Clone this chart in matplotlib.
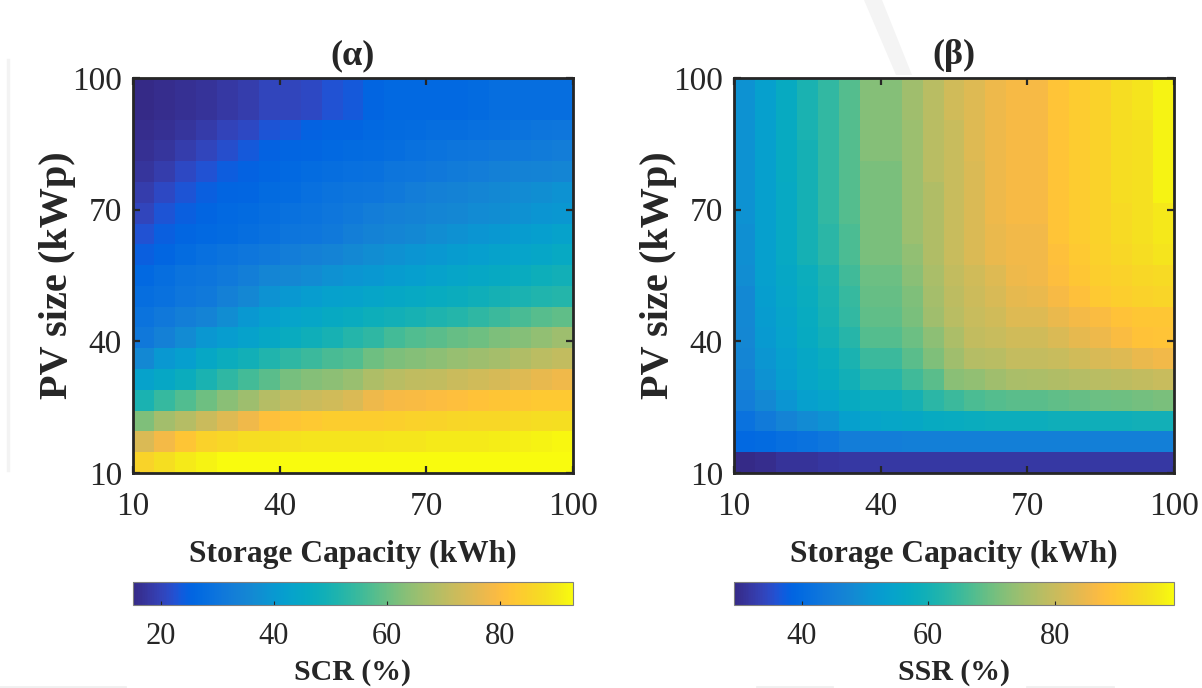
import numpy as np
import matplotlib
matplotlib.use("Agg")
import matplotlib.pyplot as plt
from matplotlib.colors import LinearSegmentedColormap
from matplotlib.patches import Polygon
from matplotlib.lines import Line2D

# ---------------- data ----------------
storage_range = (10, 100)   # kWh
pv_range = (10, 100)        # kWp
x_ticks = [10, 40, 70, 100]
y_ticks = [10, 40, 70, 100]

# SCR (%) rows from PV = 100 kWp (top) down to PV = 10 kWp (bottom),
# columns from storage 10 kWh (left) to 100 kWh (right)
scr = [
    [15, 16, 16.5, 17, 18, 19, 20.5, 20.5, 21, 22.5, 23.5, 25.5, 26.5, 26.5, 26.5, 26.5, 27, 28, 28, 28, 28],
    [15, 16, 16.5, 17, 18, 19, 20.5, 20.5, 21, 22.5, 23.5, 25.5, 26.5, 26.5, 26.5, 26.5, 27, 28, 28, 28, 28],
    [16, 16.5, 17.5, 18.5, 20, 21, 23, 23.5, 25, 25.5, 25.5, 26.5, 27, 27.5, 28, 28, 28.5, 29, 29.5, 30, 30.5],
    [16.5, 17.5, 19, 20.5, 22, 23.5, 25, 25.5, 26, 26.5, 27, 27.5, 28, 29, 29.5, 30, 30.5, 31, 31.5, 32, 32.5],
    [17.5, 19, 21, 22.5, 24, 25, 26, 26.5, 27.5, 28, 28.5, 29, 30, 30.5, 31, 32, 32.5, 33.5, 34, 34.5, 35],
    [19, 21, 23, 24.5, 25.5, 26, 27, 27.5, 28.5, 29.5, 30, 30.5, 31.5, 32.5, 33.5, 34, 35, 36, 36.5, 37.5, 38.5],
    [20.5, 23, 24.5, 25.5, 26.5, 27, 28, 29, 29.5, 30.5, 31.5, 32.5, 33.5, 34, 35, 35.5, 36.5, 37, 38, 39, 39.5],
    [22.5, 24.5, 26, 26.5, 27, 28, 29, 30, 30.5, 31.5, 33, 34, 35, 36, 37, 38, 39, 40, 41, 42, 43],
    [24.5, 26, 27.5, 28.5, 29.5, 30.5, 31.5, 32.5, 33.5, 34.5, 36, 37, 38, 39, 40, 41, 42, 43, 43.5, 44.5, 45.5],
    [26.5, 28, 29.5, 30, 31.5, 33, 35, 35.5, 36.5, 38, 39, 40, 41, 42, 43, 44, 45, 46, 47, 48, 49],
    [28, 29, 30.5, 31.5, 33.5, 35.5, 38.5, 40, 41.5, 42.5, 43, 44, 45, 45.5, 46.5, 47.5, 48.5, 49.5, 50.5, 51.5, 52],
    [29.5, 31, 33, 34.5, 37, 40, 42, 43.5, 44.5, 46, 47, 48, 49, 50, 51, 52, 53.5, 55, 56.5, 58, 59],
    [31, 33.5, 36.5, 39.5, 41.5, 43, 45, 47, 48.5, 50, 52, 53.5, 56, 57.5, 58.5, 59.5, 60.5, 62, 63, 64.5, 66],
    [36, 40, 42, 45, 47.5, 49, 51.5, 53.5, 55, 56.5, 57.5, 60.5, 62, 63, 64, 65, 66, 67, 68.5, 70, 71],
    [43, 45, 47.5, 50.5, 53.5, 56, 58.5, 61.5, 63, 64, 65.5, 68, 69.5, 70.5, 71, 72, 73, 74, 75, 76.5, 78],
    [50.5, 54.5, 57.5, 60.5, 63.5, 66, 69, 71, 72, 73, 74.5, 77.5, 79, 79.5, 80, 80.5, 81.5, 82, 82.5, 83, 83],
    [62.5, 66.5, 69, 72, 75, 78, 81, 82, 83, 84, 84, 84, 84.5, 85, 85.5, 86, 86.5, 86.5, 87, 87.5, 88],
    [74.5, 78.5, 82, 85, 86.5, 87.5, 88, 88.5, 89, 89, 89, 89, 89.5, 89.5, 90, 90, 90, 90.5, 91, 91.5, 92],
    [85.5, 88, 90, 91.5, 93, 93, 93, 93, 93, 93, 93, 93, 93, 93, 93, 93, 93, 93, 93, 93, 93],
]

# SSR (%) same layout
ssr = [
    [50, 53.5, 57, 61, 64, 67.5, 72, 72, 75, 78, 81, 83, 85, 86.5, 86.5, 89, 90.5, 92, 94, 95.5, 97.5],
    [50, 53.5, 57, 61, 64, 67.5, 72, 72, 75, 78, 81, 83, 85, 86.5, 86.5, 89, 90.5, 92, 94, 95.5, 97.5],
    [50, 53.5, 57, 61, 64, 67.5, 72, 72, 74.5, 78, 80, 83, 85, 86.5, 86.5, 89, 90.5, 92, 94, 94.5, 97.5],
    [50, 53.5, 57, 60, 64, 67.5, 72, 72, 74.5, 78, 80, 83, 85, 86.5, 86.5, 89, 90.5, 92, 94, 94.5, 97.5],
    [50, 53.5, 57, 60, 64, 67.5, 71, 71, 74.5, 78, 80, 82.5, 85, 86.5, 86.5, 89, 90.5, 92, 94, 94.5, 97.5],
    [50, 53.5, 56.5, 60, 64, 67.5, 71, 71, 74.5, 77, 80, 82.5, 85, 86.5, 86.5, 89, 90.5, 92, 94, 94.5, 97.5],
    [50, 53.5, 56.5, 60, 64, 67.5, 71, 71, 74.5, 77, 80, 82.5, 85, 86.5, 86.5, 89, 90.5, 92, 93.5, 94.5, 96],
    [49.5, 53.5, 56.5, 60, 63, 66.5, 71, 71, 74.5, 77, 80, 82.5, 84.5, 85.5, 85.5, 89, 90.5, 92, 93.5, 94.5, 96],
    [49.5, 53.5, 56.5, 60, 63, 66.5, 71, 71, 73.5, 77, 80, 82.5, 84.5, 85.5, 85.5, 88, 90, 91.5, 93, 94, 95.5],
    [49, 53.5, 56, 58.5, 61.5, 65.5, 69.5, 69.5, 72.5, 76, 79, 81, 83, 85, 85.5, 87.5, 89.5, 91, 92, 93, 93.5],
    [48, 53, 55.5, 58, 61, 64.5, 69, 69, 71.5, 75.5, 78.5, 80.5, 82, 84, 84.5, 86.5, 88, 90, 91, 92, 92.5],
    [48, 52.5, 55, 57.5, 60.5, 64, 68.5, 68.5, 71, 75, 78, 80, 81, 83, 83, 84.5, 86, 87, 88.5, 89.5, 89.5],
    [47.5, 52, 54.5, 57, 59.5, 62.5, 67.5, 67.5, 69.5, 73, 76.5, 79, 80, 81, 81, 82.5, 84, 85, 87, 88.5, 89],
    [47, 51, 53.5, 56, 58, 61, 65, 65, 68, 71.5, 75, 77.5, 78, 79.5, 79.5, 80, 81, 82, 83, 84.5, 85.5],
    [46, 50, 53, 55.5, 57, 59.5, 62.5, 62.5, 65.5, 68, 72.5, 73.5, 75, 76, 76.5, 77, 77.5, 78, 78.5, 79, 80],
    [45, 48, 50.5, 53.5, 55, 57, 58.5, 58.5, 60, 63, 65, 66.5, 67.5, 68, 68, 68.5, 69, 69.5, 70, 70.5, 71],
    [42, 44, 46.5, 48.5, 50, 53.5, 55, 55.5, 56, 57, 57.5, 58, 58.5, 58.5, 58.5, 59, 59, 59, 59, 59.5, 59.5],
    [39.5, 40, 41, 42, 43, 45, 45, 45, 45.5, 45.5, 45.5, 45.5, 45.5, 45.5, 45.5, 45.5, 45.5, 45.5, 45.5, 45.5, 45.5],
    [29.5, 30, 31, 31, 31.5, 32, 32, 32, 32, 32, 32, 32, 32, 32, 32, 32, 32, 32, 32, 32, 32],
]

scr_clim = (15.1, 92.9)
ssr_clim = (29.3, 98.8)
scr_cbar_ticks = [20, 40, 60, 80]
ssr_cbar_ticks = [40, 60, 80]
titles = ["(α)", "(β)"]
xlabel = "Storage Capacity (kWh)"
ylabel = "PV size (kWp)"
cbar_labels = ["SCR (%)", "SSR (%)"]

# ---------------- style ----------------
parula_anchors = [
    (0.2081, 0.1663, 0.5292), (0.2116, 0.1898, 0.5777), (0.2123, 0.2138, 0.6270),
    (0.2081, 0.2386, 0.6771), (0.1959, 0.2645, 0.7279), (0.1707, 0.2919, 0.7792),
    (0.1253, 0.3242, 0.8303), (0.0591, 0.3598, 0.8683), (0.0117, 0.3875, 0.8820),
    (0.0060, 0.4086, 0.8828), (0.0165, 0.4266, 0.8786), (0.0329, 0.4430, 0.8720),
    (0.0498, 0.4586, 0.8641), (0.0629, 0.4737, 0.8554), (0.0723, 0.4887, 0.8467),
    (0.0779, 0.5040, 0.8384), (0.0793, 0.5200, 0.8312), (0.0749, 0.5375, 0.8263),
    (0.0641, 0.5570, 0.8240), (0.0488, 0.5772, 0.8228), (0.0343, 0.5966, 0.8199),
    (0.0265, 0.6137, 0.8135), (0.0239, 0.6287, 0.8038), (0.0231, 0.6418, 0.7913),
    (0.0228, 0.6535, 0.7768), (0.0267, 0.6642, 0.7607), (0.0384, 0.6743, 0.7436),
    (0.0590, 0.6838, 0.7254), (0.0843, 0.6928, 0.7062), (0.1133, 0.7015, 0.6859),
    (0.1453, 0.7098, 0.6646), (0.1801, 0.7177, 0.6424), (0.2178, 0.7250, 0.6193),
    (0.2586, 0.7317, 0.5954), (0.3022, 0.7376, 0.5712), (0.3482, 0.7424, 0.5473),
    (0.3953, 0.7459, 0.5244), (0.4420, 0.7481, 0.5033), (0.4871, 0.7491, 0.4840),
    (0.5300, 0.7491, 0.4661), (0.5709, 0.7485, 0.4494), (0.6099, 0.7473, 0.4337),
    (0.6473, 0.7456, 0.4188), (0.6834, 0.7435, 0.4044), (0.7184, 0.7411, 0.3905),
    (0.7525, 0.7384, 0.3768), (0.7858, 0.7356, 0.3633), (0.8185, 0.7327, 0.3498),
    (0.8507, 0.7299, 0.3360), (0.8824, 0.7274, 0.3217), (0.9139, 0.7258, 0.3063),
    (0.9450, 0.7261, 0.2886), (0.9739, 0.7314, 0.2666), (0.9938, 0.7455, 0.2403),
    (0.9990, 0.7653, 0.2164), (0.9955, 0.7861, 0.1967), (0.9880, 0.8066, 0.1794),
    (0.9789, 0.8271, 0.1633), (0.9697, 0.8481, 0.1475), (0.9626, 0.8705, 0.1309),
    (0.9589, 0.8949, 0.1132), (0.9598, 0.9218, 0.0948), (0.9661, 0.9514, 0.0755),
    (0.9763, 0.9831, 0.0538),
]
parula = LinearSegmentedColormap.from_list("parula", parula_anchors, N=256)

TXT = "#262626"
plt.rcParams["font.family"] = ["Liberation Serif", "DejaVu Serif"]
plt.rcParams["text.color"] = TXT
plt.rcParams["axes.labelcolor"] = TXT
plt.rcParams["xtick.color"] = TXT
plt.rcParams["ytick.color"] = TXT

W, H = 1202, 688
fig = plt.figure(figsize=(W / 100, H / 100), dpi=100)

# faint background page remnants
fig.patches.append(Polygon([[864 / W, 1.0], [882 / W, 1.0], [912 / W, 1 - 75 / H], [896 / W, 1 - 75 / H]],
                           closed=True, transform=fig.transFigure, facecolor="#f4f4f4",
                           edgecolor="none", zorder=0))
fig.lines.append(Line2D([8 / W, 8 / W], [1 - 60 / H, 1 - 470 / H], transform=fig.transFigure,
                        color="#f3f3f3", linewidth=2.5, zorder=0))
for xa, xb in [(0, 125), (757, 832), (1027, 1113)]:
    fig.lines.append(Line2D([xa / W, xb / W], [1 - 686.5 / H, 1 - 686.5 / H], transform=fig.transFigure,
                            color="#f0f0f0", linewidth=2, zorder=0))

panels = [
    (133, scr, scr_clim, scr_cbar_ticks),
    (734, ssr, ssr_clim, ssr_cbar_ticks),
]

for k, (x0, data, clim, cticks) in enumerate(panels):
    arr = np.array(data, dtype=float)[::-1]  # bottom row = PV 10
    nrows, ncols = arr.shape
    xe = np.linspace(storage_range[0], storage_range[1], ncols + 1)
    ye = np.linspace(pv_range[0], pv_range[1], nrows + 1)

    ax = fig.add_axes([x0 / W, 1 - 473 / H, 440 / W, 395 / H])
    mesh = ax.pcolormesh(xe, ye, arr, cmap=parula, vmin=clim[0], vmax=clim[1],
                         shading="flat", edgecolors="face", linewidth=0)
    ax.set_xlim(storage_range)
    ax.set_ylim(pv_range)
    ax.set_xticks(x_ticks)
    ax.set_yticks(y_ticks)
    ax.tick_params(direction="in", top=True, right=True, length=5, width=1.6,
                   labelsize=24)
    ax.tick_params(axis="x", pad=13)
    ax.tick_params(axis="y", pad=8)
    for s in ax.spines.values():
        s.set_linewidth(2.0)
        s.set_color(TXT)
    ax.set_xlabel(xlabel, fontsize=22.7, fontweight="bold", labelpad=13)
    ax.set_ylabel(ylabel, fontsize=29, fontweight="bold", labelpad=-3)
    ax.set_title(titles[k], fontsize=26, fontweight="bold", pad=10)

    cax = fig.add_axes([x0 / W, 1 - 605 / H, 440 / W, 23 / H])
    cb = fig.colorbar(mesh, cax=cax, orientation="horizontal")
    cb.set_ticks(cticks)
    cb.ax.tick_params(direction="in", length=3, width=0.8, labelsize=22, pad=12, colors=TXT)
    cb.outline.set_linewidth(0.8)
    cb.outline.set_edgecolor("#7f7f7f")
    cb.set_label(cbar_labels[k], fontsize=21.5, fontweight="bold", labelpad=6)

fig.savefig("out.png", dpi=100, facecolor="white")
